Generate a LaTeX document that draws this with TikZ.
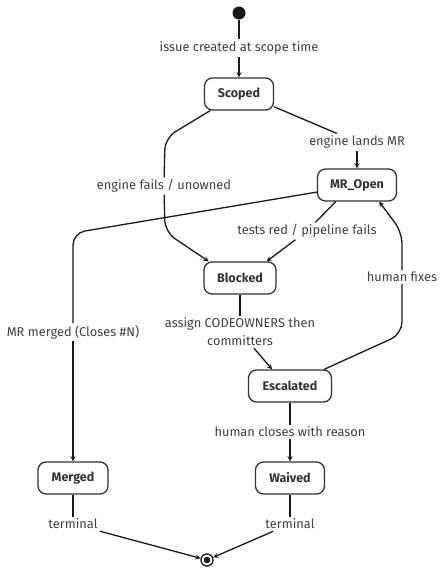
\documentclass[tikz,border=0pt]{standalone}
\usepackage{fontspec}
\setmainfont{Fira Sans}
\usepackage{tikz}

\begin{document}
\begin{tikzpicture}[x=1pt,y=-1pt]
 \useasboundingbox (0,0) rectangle (445,573); %画面の大きさ
 \tikzset{state/.style={draw=black!80,line width=1.3pt,rounded corners=8pt,fill=white,
   minimum height=32pt,text=black!80,font=\bfseries\fontsize{12.5}{14}\selectfont},
  lbl/.style={text=black!75,inner sep=2pt,align=center,font=\fontsize{12.8}{18}\selectfont},
  line/.style={line width=1.3pt,black!90,rounded corners=12pt},
  edge/.style={line,->,>=stealth}}

 \node[circle,fill=black!90,inner sep=0,minimum size=13pt] (start) at (239,13) {}; %開始
 \node[state,minimum width=69pt] (Scoped) at (239,94) {Scoped};
 \node[state,minimum width=79pt] (MROpen) at (357,185) {MR\_Open};
 \node[state,minimum width=72pt] (Blocked) at (240,278) {Blocked};
 \node[state,minimum width=83pt] (Escalated) at (290,386) {Escalated};
 \node[state,minimum width=70pt] (Merged) at (73,478) {Merged};
 \node[state,minimum width=69pt] (Waived) at (290,478) {Waived};
 \node[circle,draw=black!90,line width=1.3pt,inner sep=0,minimum size=12pt] (end) at (207,560) {}; %終了
 \fill[black!90] (end) circle (3.3pt);

 \node[lbl] (lIssue) at (239,48) {issue created at scope time};
 \node[lbl] (lFails) at (164,186) {engine fails / unowned};
 \node[lbl] (lLands) at (357,142) {engine lands MR};
 \node[lbl] (lMerged) at (73,332) {MR merged (Closes \#N)};
 \node[lbl] (lTests) at (307,231) {tests red / pipeline fails};
 \node[lbl] (lAssign) at (240,332) {assign CODEOWNERS then\\committers};
 \node[lbl] (lFixes) at (402,277) {human fixes};
 \node[lbl] (lCloses) at (290,432) {human closes with reason};
 \node[lbl] (lTermM) at (73,524) {terminal};
 \node[lbl] (lTermW) at (290,524) {terminal};

 \draw[line] (start) -- (lIssue);
 \draw[edge] (lIssue) -- (Scoped);
 \draw[line] (Scoped.210) -- (165,138) -- (lFails); %失敗
 \draw[edge] (lFails) -- (165,232) -- (Blocked.152);
 \draw[line] (Scoped.-20) -- (lLands); %MR作成
 \draw[edge] (lLands) -- (MROpen);
 \draw[line] (MROpen.190) -- (73,233) -- (lMerged); %マージ
 \draw[edge] (lMerged) -- (Merged);
 \draw[line] (MROpen.-142) -- (lTests); %テスト失敗
 \draw[edge] (lTests) -- (Blocked.32);
 \draw[line] (Blocked) -- (lAssign); %担当割当
 \draw[edge] (lAssign) -- (Escalated.137);
 \draw[line] (Escalated.26) -- (402,334) -- (lFixes); %人が修正
 \draw[edge] (lFixes) -- (402,232) -- (MROpen.-37);
 \draw[line] (Escalated) -- (lCloses); %人が閉じる
 \draw[edge] (lCloses) -- (Waived);
 \draw[line] (Merged) -- (lTermM);
 \draw[edge] (lTermM) -- (end);
 \draw[line] (Waived) -- (lTermW);
 \draw[edge] (lTermW) -- (end);
\end{tikzpicture}
\end{document}
